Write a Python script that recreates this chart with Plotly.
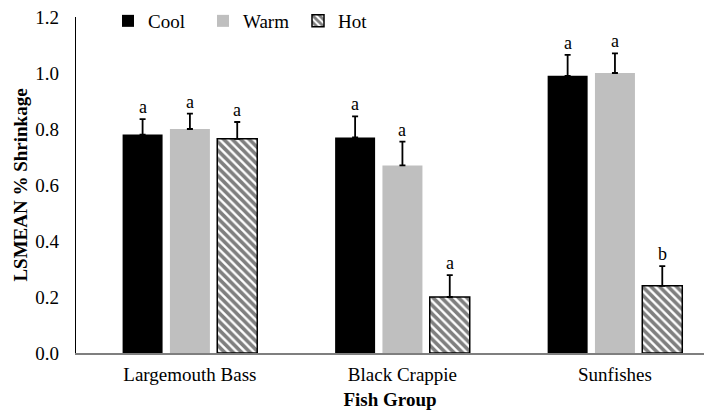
import plotly.graph_objects as go

categories = ["Largemouth Bass", "Black Crappie", "Sunfishes"]
series_names = ["Cool", "Warm", "Hot"]
cool = [0.78, 0.77, 0.99]
warm = [0.80, 0.67, 1.00]
hot = [0.765, 0.20, 0.24]
cool_err = [0.055, 0.075, 0.075]
warm_err = [0.055, 0.085, 0.07]
hot_err = [0.06, 0.078, 0.07]
cool_letters = ["a", "a", "a"]
warm_letters = ["a", "a", "a"]
hot_letters = ["a", "a", "b"]

FONT = "Liberation Serif, Times New Roman, serif"
W, H = 704, 410
ML, MR, MT, MB = 76, 0, 17, 57
XR = [-0.536, 2.419]
BARGAP = 0.332
GROUPGAP = 0.155

values = [cool, warm, hot]
errs = [cool_err, warm_err, hot_err]
letters = [cool_letters, warm_letters, hot_letters]

fig = go.Figure()
styles = [
    dict(color="#000000", line=dict(width=0)),
    dict(color="#bfbfbf", line=dict(width=0)),
    dict(color="#ffffff", line=dict(width=1.5, color="#000000"),
         pattern=dict(shape="\\", fgcolor="#000000", bgcolor="#ffffff", size=6, solidity=0.6)),
]
for name, v, e, st in zip(series_names, values, errs, styles):
    fig.add_trace(go.Bar(
        x=categories, y=v, name=name, marker=st,
        error_y=dict(type="data", array=e, arrayminus=[0] * len(e), symmetric=False,
                     color="#000000", thickness=1.8, width=3),
    ))

# letters above error bars
px_per_unit = (W - ML - MR) / (XR[1] - XR[0])
slot = (1 - BARGAP) / len(series_names)
for i, (v, e, lt) in enumerate(zip(values, errs, letters)):
    shift = (i - (len(series_names) - 1) / 2) * slot * px_per_unit
    for c, vv, ee, ll in zip(categories, v, e, lt):
        fig.add_annotation(x=c, y=vv + ee, text=ll, showarrow=False, xshift=shift,
                           yanchor="bottom", yshift=0,
                           font=dict(family=FONT, size=18, color="#000000"))

fig.update_layout(
    width=W, height=H,
    margin=dict(l=ML, r=MR, t=MT, b=MB, autoexpand=False),
    paper_bgcolor="white", plot_bgcolor="white",
    barmode="group", bargap=BARGAP, bargroupgap=GROUPGAP,
    font=dict(family=FONT, size=19, color="#000000"),
    showlegend=True,
    legend=dict(orientation="h", xref="container", yref="container",
                x=108 / W, y=1 - 2 / H, xanchor="left", yanchor="top",
                entrywidth=50, entrywidthmode="pixels",
                font=dict(family=FONT, size=19), bgcolor="rgba(0,0,0,0)"),
)
fig.update_xaxes(range=XR, showline=True, linecolor="#7f7f7f", linewidth=1.5,
                 ticks="", showgrid=False, zeroline=False, ticklabelstandoff=3,
                 automargin=False,
                 title=dict(text="<b>Fish Group</b>", font=dict(family=FONT, size=19), standoff=9))
fig.update_yaxes(range=[0, 1.2], dtick=0.2, tickformat=".1f", showline=True,
                 linecolor="#000000", linewidth=1.3, ticks="", showgrid=False,
                 zeroline=False, ticklabelstandoff=12, automargin=False,
                 title=dict(text="<b>LSMEAN % Shrinkage</b>", font=dict(family=FONT, size=19), standoff=2))

fig.write_html("out.html")
